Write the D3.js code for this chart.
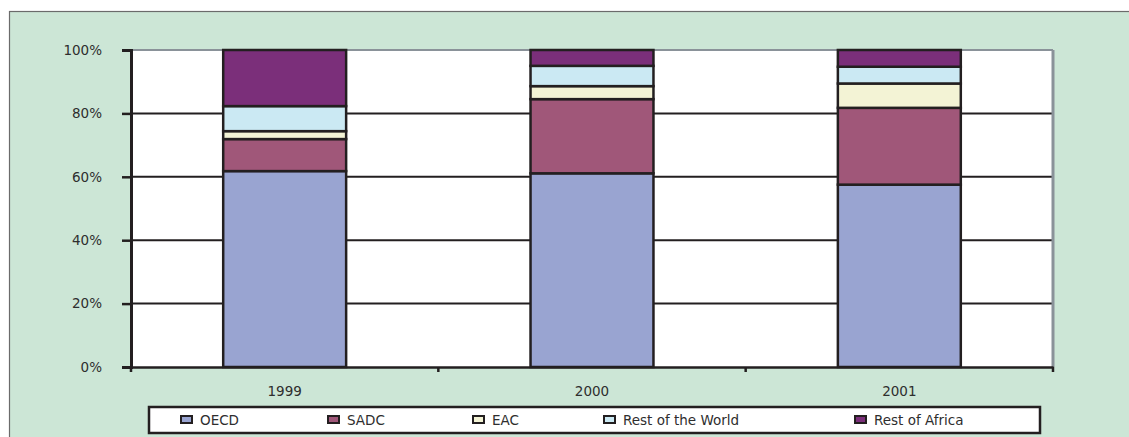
<!DOCTYPE html>
<html>
<head>
<meta charset="utf-8">
<script src="https://cdn.jsdelivr.net/npm/d3@7"></script>
<style>
  html, body { margin: 0; padding: 0; background: #fff; }
  svg text { font-family: "DejaVu Sans", "Liberation Sans", sans-serif; fill: #2e2e2e; }
</style>
</head>
<body>
<div id="chart"></div>
<script>
// 100% stacked column: trade share by destination, 1999-2001
const years = ["1999", "2000", "2001"];
const seriesNames = ["OECD", "SADC", "EAC", "Rest of the World", "Rest of Africa"];
const oecd = [61.8, 61.1, 57.7];
const sadc = [10.1, 23.4, 24.3];
const eac = [2.5, 4.1, 7.7];
const restWorld = [7.9, 6.4, 5.3];
const restAfrica = [17.7, 5.0, 5.3];
const yTicks = [0, 0.2, 0.4, 0.6, 0.8, 1];

const colors = ["#99a4d1", "#a05779", "#f3f3d5", "#cbe9f3", "#7b2f7a"];

const W = 1129, H = 437;
const plot = { left: 131, right: 1053, top: 50, bottom: 367 };
const FS = 13.5;

const svg = d3.select("#chart").append("svg")
  .attr("width", W).attr("height", H);

// green chart area
svg.append("rect")
  .attr("x", 9.5).attr("y", 11.5)
  .attr("width", W).attr("height", H)
  .attr("fill", "#cce6d6")
  .attr("stroke", "#6b6b6b").attr("stroke-width", 1.2);

// plot area
svg.append("rect")
  .attr("x", plot.left).attr("y", plot.top)
  .attr("width", plot.right - plot.left).attr("height", plot.bottom - plot.top)
  .attr("fill", "#fff");

const x = d3.scaleBand().domain(years)
  .range([plot.left, plot.right]).paddingInner(0.6).paddingOuter(0.3);
const y = d3.scaleLinear().domain([0, 1]).range([plot.bottom, plot.top]);

// gridlines
svg.append("g").selectAll("line")
  .data(yTicks.filter(d => d > 0 && d < 1))
  .enter().append("line")
  .attr("x1", plot.left).attr("x2", plot.right)
  .attr("y1", d => y(d)).attr("y2", d => y(d))
  .attr("stroke", "#231f20").attr("stroke-width", 2);

// top and right border of plot
svg.append("line")
  .attr("x1", plot.left).attr("x2", plot.right)
  .attr("y1", plot.top).attr("y2", plot.top)
  .attr("stroke", "#8a9299").attr("stroke-width", 2);
svg.append("line")
  .attr("x1", plot.right).attr("x2", plot.right)
  .attr("y1", plot.top).attr("y2", plot.bottom)
  .attr("stroke", "#8a9299").attr("stroke-width", 3);

// stacked data
const rows = years.map((yr, i) => {
  const vals = [oecd[i], sadc[i], eac[i], restWorld[i], restAfrica[i]];
  const tot = d3.sum(vals);
  const r = { year: yr };
  seriesNames.forEach((s, k) => { r[s] = vals[k] / tot; });
  return r;
});
const stacked = d3.stack().keys(seriesNames)(rows);

svg.append("g").selectAll("g")
  .data(stacked)
  .enter().append("g")
  .attr("fill", (d, i) => colors[i])
  .selectAll("rect")
  .data(d => d)
  .enter().append("rect")
  .attr("x", d => x(d.data.year))
  .attr("width", x.bandwidth())
  .attr("y", d => y(d[1]))
  .attr("height", d => y(d[0]) - y(d[1]))
  .attr("stroke", "#231f20").attr("stroke-width", 2.5);

// y axis
const yAxis = svg.append("g")
  .attr("transform", `translate(${plot.left},0)`)
  .call(d3.axisLeft(y).tickValues(yTicks).tickFormat(d3.format(".0%")).tickSize(9).tickPadding(20));
yAxis.select(".domain").attr("stroke", "#231f20").attr("stroke-width", 3);
yAxis.selectAll(".tick line").attr("stroke", "#231f20").attr("stroke-width", 2.5);
yAxis.selectAll(".tick text").attr("font-size", FS).style("fill", "#2e2e2e");

// x axis
const xAxis = svg.append("g")
  .attr("transform", `translate(0,${plot.bottom})`)
  .call(d3.axisBottom(x).tickSize(0).tickPadding(19));
xAxis.select(".domain").attr("stroke", "#231f20").attr("stroke-width", 2.5);
xAxis.selectAll(".tick text").attr("font-size", FS).style("fill", "#2e2e2e");

// category boundary ticks
const bounds = d3.range(years.length + 1).map(i => plot.left + i * (plot.right - plot.left) / years.length);
svg.append("g").selectAll("line")
  .data(bounds)
  .enter().append("line")
  .attr("x1", d => d).attr("x2", d => d)
  .attr("y1", plot.bottom).attr("y2", plot.bottom + 5)
  .attr("stroke", "#231f20").attr("stroke-width", 2.5);

// legend
const legendX = [180, 327, 472, 603, 854];
svg.append("rect")
  .attr("x", 149).attr("y", 407)
  .attr("width", 891).attr("height", 26)
  .attr("fill", "#fff")
  .attr("stroke", "#231f20").attr("stroke-width", 2.5);

const items = svg.append("g").selectAll("g")
  .data(seriesNames)
  .enter().append("g")
  .attr("transform", (d, i) => `translate(${legendX[i]},420)`);
items.append("rect")
  .attr("x", 1).attr("y", -4).attr("width", 11).attr("height", 7)
  .attr("fill", (d, i) => colors[i])
  .attr("stroke", "#231f20").attr("stroke-width", 2);
items.append("text")
  .attr("x", 20).attr("y", 0).attr("dy", "0.35em")
  .attr("font-size", FS)
  .text(d => d);
</script>
</body>
</html>
